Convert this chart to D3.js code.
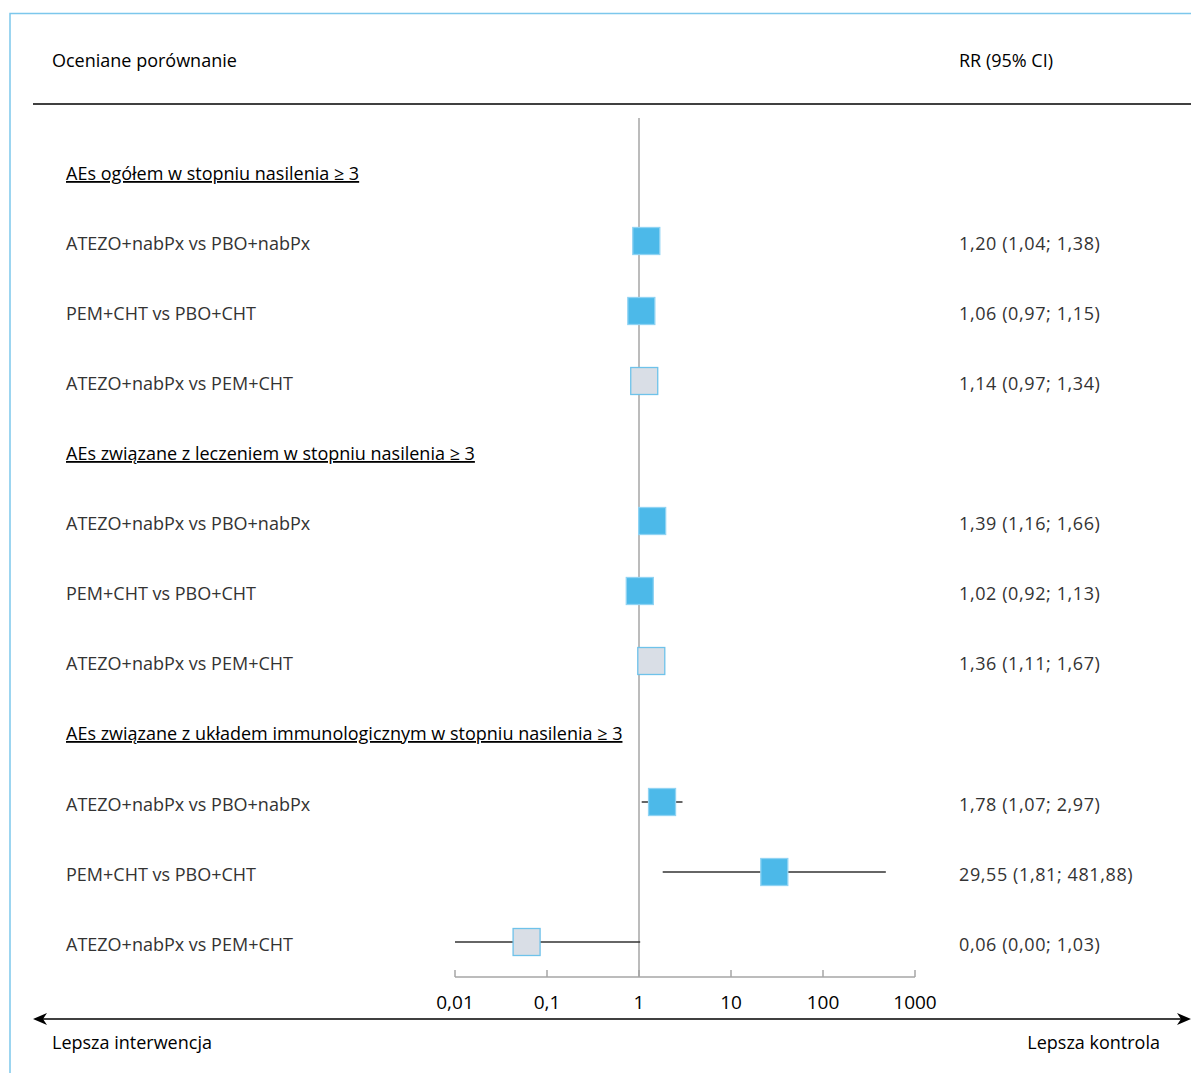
<!DOCTYPE html>
<html>
<head>
<meta charset="utf-8">
<script src="https://cdn.jsdelivr.net/npm/d3@7"></script>
<style>
  body { margin: 0; background: #fff; }
  svg { display: block; }
  .lbl { font-family: "Open Sans", sans-serif; font-size: 18px; fill: #333; }
  .val { letter-spacing: 0.6px; }
  .hdr { font-family: "Open Sans", sans-serif; font-size: 18px; font-weight: 500; fill: #000; }
</style>
</head>
<body>
<div id="chart"></div>
<script>
// groups of comparisons
const groups = [
  "AEs ogółem w stopniu nasilenia ≥ 3",
  "AEs związane z leczeniem w stopniu nasilenia ≥ 3",
  "AEs związane z układem immunologicznym w stopniu nasilenia ≥ 3"
];
const comparisons = [
  "ATEZO+nabPx vs PBO+nabPx",
  "PEM+CHT vs PBO+CHT",
  "ATEZO+nabPx vs PEM+CHT"
];
// one entry per row, 3 rows per group
const rr    = [1.20, 1.06, 1.14, 1.39, 1.02, 1.36, 1.78, 29.55, 0.06];
const lower = [1.04, 0.97, 0.97, 1.16, 0.92, 1.11, 1.07, 1.81, 0.00];
const upper = [1.38, 1.15, 1.34, 1.66, 1.13, 1.67, 2.97, 481.88, 1.03];
const labels = ["1,20 (1,04; 1,38)", "1,06 (0,97; 1,15)", "1,14 (0,97; 1,34)",
                "1,39 (1,16; 1,66)", "1,02 (0,92; 1,13)", "1,36 (1,11; 1,67)",
                "1,78 (1,07; 2,97)", "29,55 (1,81; 481,88)", "0,06 (0,00; 1,03)"];
const indirect = [false, false, true, false, false, true, false, false, true];
const ticks = [0.01, 0.1, 1, 10, 100, 1000];
const tickLabels = ["0,01", "0,1", "1", "10", "100", "1000"];

const width = 1191, height = 1073;
const svg = d3.select("#chart").append("svg")
  .attr("width", width).attr("height", height);

const x = d3.scaleLog().domain([0.01, 1000]).range([455, 915]).clamp(true);

// rows: group header + 3 comparisons each
const rowY = i => 174 + (Math.floor(i / 3) * 4 + (i % 3) + 1) * 70 + (Math.floor(i / 3) === 2 ? 1 : 0);
const groupY = g => 174 + g * 280;

// frame
svg.append("path")
  .attr("d", `M10,${height} V13.5 H${width}`)
  .attr("fill", "none").attr("stroke", "#7cc7ec").attr("stroke-width", 1.5);

// header
svg.append("text").attr("class", "hdr").attr("x", 52).attr("y", 67).text("Oceniane porównanie");
svg.append("text").attr("class", "hdr").attr("x", 959).attr("y", 67).text("RR (95% CI)");
svg.append("line").attr("x1", 33).attr("x2", width).attr("y1", 104).attr("y2", 104)
  .attr("stroke", "#000").attr("stroke-width", 1.3);

// reference line at 1
svg.append("line").attr("x1", x(1)).attr("x2", x(1)).attr("y1", 118).attr("y2", 977)
  .attr("stroke", "#a6a6a6").attr("stroke-width", 1.5);

// group headers
groups.forEach((g, gi) => {
  svg.append("text").attr("class", "hdr").attr("x", 66).attr("y", groupY(gi) + 6)
    .attr("text-decoration", "underline").text(g);
});

// rows
const rows = rr.map((v, i) => ({ v, lo: lower[i], hi: upper[i], lab: labels[i], ind: indirect[i], name: comparisons[i % 3], y: rowY(i) }));

svg.selectAll("text.row").data(rows).join("text")
  .attr("class", "lbl row").attr("x", 66).attr("y", d => d.y + 6).text(d => d.name);

svg.selectAll("text.val").data(rows).join("text")
  .attr("class", "lbl val").attr("x", 959).attr("y", d => d.y + 6).text(d => d.lab);

svg.selectAll("line.ci").data(rows).join("line")
  .attr("class", "ci")
  .attr("x1", d => x(Math.max(d.lo, 0.01))).attr("x2", d => x(d.hi))
  .attr("y1", d => d.y - 3).attr("y2", d => d.y - 3)
  .attr("stroke", "#333").attr("stroke-width", 1.3);

const sz = 27;
svg.selectAll("rect.mk").data(rows).join("rect")
  .attr("class", "mk")
  .attr("x", d => x(d.v) - sz / 2).attr("y", d => d.y - 3 - sz / 2)
  .attr("width", sz).attr("height", sz)
  .attr("fill", d => d.ind ? "#d9dee6" : "#4cb9e9")
  .attr("stroke", d => d.ind ? "#6ec2ea" : "#8fd3f3")
  .attr("stroke-width", 1.3);

// axis
const axis = svg.append("g").attr("transform", "translate(0,977)");
axis.append("line").attr("x1", x(0.01)).attr("x2", x(1000)).attr("stroke", "#a6a6a6").attr("stroke-width", 1.5);
axis.selectAll("line.tk").data(ticks).join("line").attr("class", "tk")
  .attr("x1", d => x(d)).attr("x2", d => x(d)).attr("y1", 0).attr("y2", -7)
  .attr("stroke", "#a6a6a6").attr("stroke-width", 1.5);
axis.selectAll("text").data(ticks).join("text")
  .attr("class", "lbl").style("fill", "#000").style("font-size", "19px")
  .attr("x", d => x(d)).attr("y", 32).attr("text-anchor", "middle")
  .text((d, i) => tickLabels[i]);

// bottom arrow
const ay = 1019;
svg.append("line").attr("x1", 38).attr("x2", 1186).attr("y1", ay).attr("y2", ay)
  .attr("stroke", "#000").attr("stroke-width", 1.3);
svg.append("path").attr("d", `M33,${ay} L47,${ay - 6} L43,${ay} L47,${ay + 6} Z`).attr("fill", "#000");
svg.append("path").attr("d", `M1191,${ay} L1177,${ay - 6} L1181,${ay} L1177,${ay + 6} Z`).attr("fill", "#000");

svg.append("text").attr("class", "hdr").attr("x", 52).attr("y", 1049).text("Lepsza interwencja");
svg.append("text").attr("class", "hdr").attr("x", 1160).attr("y", 1049).attr("text-anchor", "end").text("Lepsza kontrola");
</script>
</body>
</html>
